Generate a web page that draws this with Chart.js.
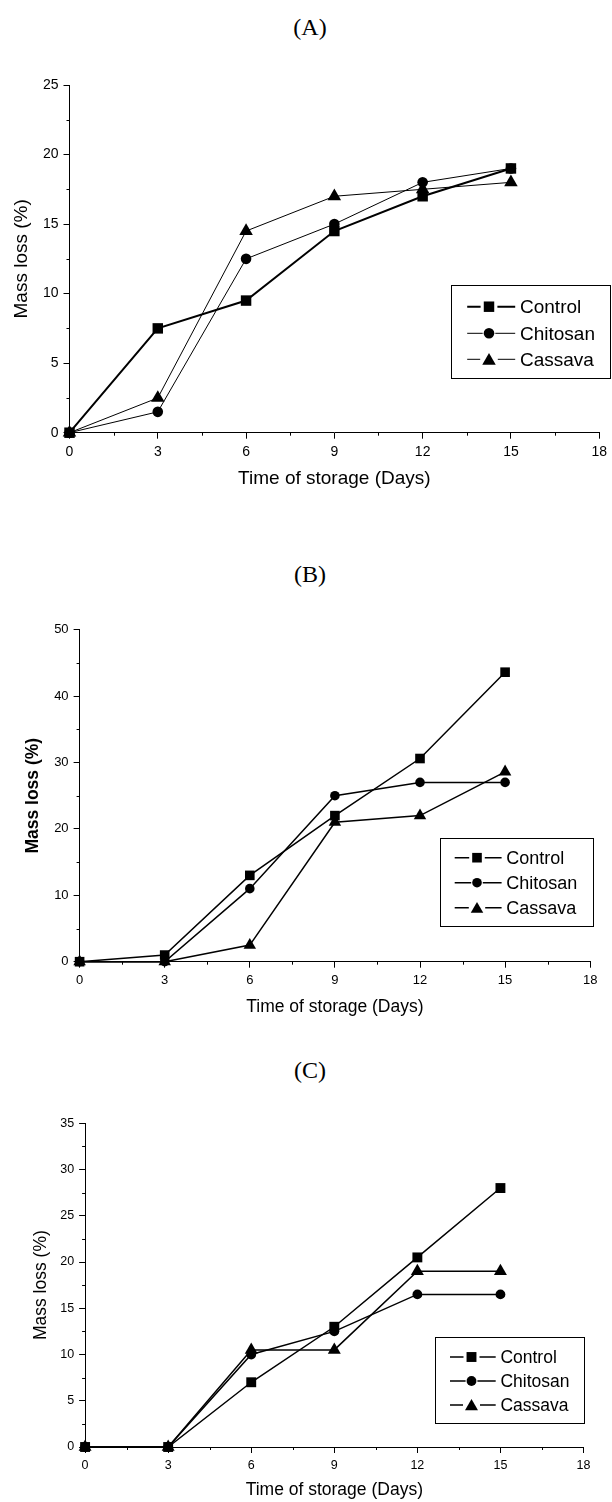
<!DOCTYPE html>
<html>
<head>
<meta charset="utf-8">
<script src="https://cdn.jsdelivr.net/npm/chart.js@4.4.1/dist/chart.umd.min.js"></script>
<style>
    body { margin: 0; width: 612px; height: 1502px; background: #fff; position: relative; overflow: hidden; }
    .panel { position: absolute; left: 0; width: 612px; }
    .tag {
        position: absolute; left: 210px; width: 200px; text-align: center;
        font-family: "Liberation Serif", "Times New Roman", serif; font-size: 24px; line-height: 28px; color: #000;
    }
</style>
</head>
<body>

<div class="tag" style="top:13px">(A)</div>
<div class="panel" style="top:60px"><canvas id="chartA" width="612" height="430"></canvas></div>

<div class="tag" style="top:560px">(B)</div>
<div class="panel" style="top:600px"><canvas id="chartB" width="612" height="420"></canvas></div>

<div class="tag" style="top:1056px">(C)</div>
<div class="panel" style="top:1100px"><canvas id="chartC" width="612" height="402"></canvas></div>

<script>
const days = [0, 3, 6, 9, 12, 15];
const xTicks = [0, 3, 6, 9, 12, 15, 18];
const seriesNames = ["Control", "Chitosan", "Cassava"];
const pointShapes = ["rect", "circle", "triangle"];

// (A)
const controlA = [0, 7.5, 9.5, 14.5, 17, 19];
const chitosanA = [0, 1.5, 12.5, 15, 18, 19];
const cassavaA = [0, 2.5, 14.5, 17, 17.5, 18];
const yTicksA = [0, 5, 10, 15, 20, 25];

// (B)
const controlB = [0, 1, 13, 22, 30.6, 43.6];
const chitosanB = [0, 0, 11, 25, 27, 27];
const cassavaB = [0, 0, 2.5, 21, 22, 28.6];
const yTicksB = [0, 10, 20, 30, 40, 50];

// (C)
const controlC = [0, 0, 7, 13, 20.5, 28];
const chitosanC = [0, 0, 10, 12.5, 16.5, 16.5];
const cassavaC = [0, 0, 10.5, 10.5, 19, 19];
const yTicksC = [0, 5, 10, 15, 20, 25, 30, 35];

const SANS = "'Liberation Sans', Arial, sans-serif";
Chart.defaults.color = "#000";
Chart.defaults.font.family = SANS;

function drawMarker(ctx, shape, x, y, r) {
    ctx.beginPath();
    if (shape === "rect") {
        const s = r * Math.SQRT1_2;
        ctx.rect(x - s, y - s, 2 * s, 2 * s);
    } else if (shape === "circle") {
        ctx.arc(x, y, r, 0, Math.PI * 2);
    } else {
        ctx.moveTo(x, y - r);
        ctx.lineTo(x + r * Math.sin(Math.PI / 3), y + r / 2);
        ctx.lineTo(x - r * Math.sin(Math.PI / 3), y + r / 2);
        ctx.closePath();
    }
    ctx.fill();
}

// small ticks half way between the labelled ones
const minorTicks = {
    id: "minorTicks",
    afterDraw(chart) {
        const ctx = chart.ctx;
        const xs = chart.scales.x, ys = chart.scales.y;
        const yt = chart.options.plugins.minorTicks.yTicks;
        ctx.save();
        ctx.strokeStyle = "#000";
        ctx.lineWidth = 1;
        ctx.beginPath();
        for (let i = 0; i < xTicks.length - 1; i++) {
            const px = Math.round(xs.getPixelForValue((xTicks[i] + xTicks[i + 1]) / 2)) + 0.5;
            ctx.moveTo(px, xs.top);
            ctx.lineTo(px, xs.top + 3);
        }
        for (let i = 0; i < yt.length - 1; i++) {
            const py = Math.round(ys.getPixelForValue((yt[i] + yt[i + 1]) / 2)) + 0.5;
            ctx.moveTo(ys.right, py);
            ctx.lineTo(ys.right - 3, py);
        }
        ctx.stroke();
        ctx.restore();
    }
};

// Origin style boxed legend
const boxLegend = {
    id: "boxLegend",
    afterDraw(chart) {
        const o = chart.options.plugins.boxLegend;
        const ctx = chart.ctx;
        ctx.save();
        ctx.strokeStyle = "#000";
        ctx.fillStyle = "#000";
        ctx.lineWidth = 1;
        ctx.strokeRect(Math.round(o.x1) + 0.5, Math.round(o.y1) + 0.5, Math.round(o.x2 - o.x1), Math.round(o.y2 - o.y1));
        ctx.font = o.fontSize + "px " + SANS;
        ctx.textBaseline = "middle";
        chart.data.datasets.forEach((ds, i) => {
            const y = o.rows[i];
            const gap = ds.pointRadius + 1;
            ctx.lineWidth = ds.borderWidth;
            ctx.beginPath();
            ctx.moveTo(o.segL, y);
            ctx.lineTo(o.markX - gap, y);
            ctx.moveTo(o.markX + gap, y);
            ctx.lineTo(o.segR, y);
            ctx.stroke();
            drawMarker(ctx, ds.pointStyle, o.markX, ds.pointStyle === "triangle" ? y + 1.5 : y, ds.pointRadius);
            ctx.fillText(ds.label, o.textX, y + 1);
        });
        ctx.restore();
    }
};

function makePanel(p) {
    const datasets = p.series.map((vals, i) => ({
        label: seriesNames[i],
        data: vals.map((v, j) => ({ x: days[j], y: v })),
        borderColor: "#000",
        backgroundColor: "#000",
        borderWidth: p.widths[i],
        pointStyle: pointShapes[i],
        pointRadius: p.radii[i],
        pointBackgroundColor: "#000",
        pointBorderColor: "#000",
        pointBorderWidth: 0,
        tension: 0,
        fill: false,
        clip: false
    }));

    new Chart(document.getElementById(p.id), {
        type: "line",
        data: { datasets },
        options: {
            responsive: false,
            animation: false,
            events: [],
            layout: { padding: { top: p.padTop, right: p.padRight, left: 0, bottom: 0 } },
            plugins: {
                legend: { display: false },
                tooltip: { enabled: false },
                minorTicks: { yTicks: p.yTicks },
                boxLegend: p.legend
            },
            scales: {
                x: {
                    type: "linear",
                    min: xTicks[0],
                    max: xTicks[xTicks.length - 1],
                    afterBuildTicks: s => { s.ticks = xTicks.map(v => ({ value: v })); },
                    afterFit: s => { s.height = p.xHeight; },
                    grid: { drawOnChartArea: false, tickLength: 6, tickColor: "#000" },
                    border: { color: "#000", width: 1 },
                    ticks: { font: { size: p.tickSize }, padding: 5, maxRotation: 0 },
                    title: {
                        display: true, text: "Time of storage (Days)",
                        font: { size: p.titleSize }, padding: { top: 0, bottom: p.xTitlePad }
                    }
                },
                y: {
                    min: p.yTicks[0],
                    max: p.yTicks[p.yTicks.length - 1],
                    afterBuildTicks: s => { s.ticks = p.yTicks.map(v => ({ value: v })); },
                    afterFit: s => { s.width = p.yWidth; },
                    grid: { drawOnChartArea: false, tickLength: 6, tickColor: "#000" },
                    border: { color: "#000", width: 1 },
                    ticks: { font: { size: p.tickSize }, padding: 5 },
                    title: {
                        display: true, text: "Mass loss (%)",
                        font: { size: p.titleSize, weight: p.yTitleBold ? "bold" : "normal" },
                        padding: { top: p.yTitlePad, bottom: 0 }
                    }
                }
            }
        },
        plugins: [minorTicks, boxLegend]
    });
}

makePanel({
    id: "chartA", series: [controlA, chitosanA, cassavaA], yTicks: yTicksA,
    widths: [2, 1, 1], radii: [7.4, 5.3, 7.8], tickSize: 14, titleSize: 19,
    padTop: 25, padRight: 9.7, yWidth: 69.5, xHeight: 57.3,
    xTitlePad: 0, yTitlePad: 10.1, yTitleBold: false,
    legend: { x1: 450.8, y1: 225.3, x2: 609.7, y2: 318.3, rows: [246.7, 273.3, 299.3], segL: 467.2, segR: 515.2, markX: 489, textX: 520, fontSize: 19 }
});

makePanel({
    id: "chartB", series: [controlB, chitosanB, cassavaB], yTicks: yTicksB,
    widths: [1.5, 1.5, 1.5], radii: [6.8, 4.8, 7.2], tickSize: 13, titleSize: 17.5,
    padTop: 29.7, padRight: 21.8, yWidth: 79.6, xHeight: 58.3,
    xTitlePad: 2.5, yTitlePad: 22.7, yTitleBold: true,
    legend: { x1: 439.5, y1: 237.7, x2: 592.1, y2: 326, rows: [257.7, 282.7, 307.7], segL: 454.7, segR: 501.6, markX: 477, textX: 506.2, fontSize: 18 }
});

makePanel({
    id: "chartC", series: [controlC, chitosanC, cassavaC], yTicks: yTicksC,
    widths: [1.5, 1.5, 1.5], radii: [7, 4.9, 7.5], tickSize: 12.5, titleSize: 17.5,
    padTop: 23.3, padRight: 28.5, yWidth: 85.1, xHeight: 55,
    xTitlePad: 1.5, yTitlePad: 30.5, yTitleBold: false,
    legend: { x1: 435.2, y1: 236.7, x2: 584.3, y2: 323, rows: [257, 281, 305], segL: 450, segR: 495.7, markX: 471.5, textX: 500.4, fontSize: 17.5 }
});
</script>
</body>
</html>
